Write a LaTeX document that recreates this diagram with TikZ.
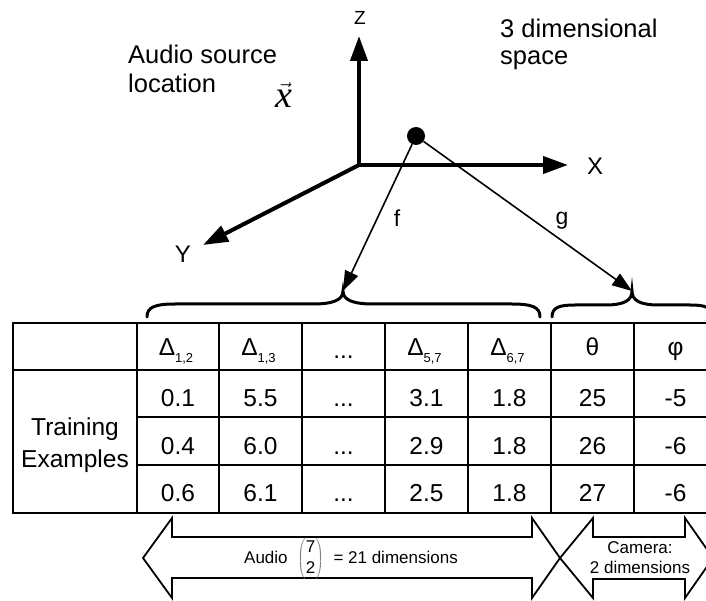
\documentclass[tikz,border=0pt]{standalone}
\usepackage{fontspec}
\setmainfont{Liberation Sans}
\newfontfamily\vecfont{Liberation Serif}
\usetikzlibrary{arrows.meta}
% Delta with a lowered small index, as in the table header
\newcommand\deltasub[1]{Δ\raisebox{-7pt}{\fontsize{13}{13}\selectfont #1}}
\newcommand\cellgap{...}
\begin{document}
\begin{tikzpicture}[x=1pt,y=-1pt,
  axis/.style={line width=4pt,-{Triangle[length=25pt,width=17pt]}},
  maparrow/.style={line width=1.6pt,-{Triangle[length=20pt,width=14pt]}},
  brace/.style={line width=3pt,line cap=round},
  grid/.style={line width=2.8pt},
  bigarrow/.style={line width=1.8pt,line join=miter},
  lbl/.style={font=\fontsize{25.5}{29}\selectfont,inner sep=0pt},
  axlbl/.style={font=\fontsize{24}{26}\selectfont,inner sep=0pt},
  cell/.style={font=\fontsize{24.5}{28}\selectfont,inner sep=0pt,anchor=base},
  small/.style={font=\fontsize{17}{20}\selectfont,inner sep=0pt,align=center}]
\useasboundingbox (0,0) rectangle (706,601);

% ---- coordinate system ----
\coordinate (O) at (359,165);
\coordinate (Ztip) at (359,36);
\coordinate (Xtip) at (568,165);
\coordinate (Ytip) at (203,245);
\draw[axis] (O) -- (Ztip);
\draw[axis] (O) -- (Xtip);
\draw[axis] (O) -- (Ytip);
\node[axlbl,font=\fontsize{19}{22}\selectfont] (zl) at (360,18) {Z};
\node[axlbl] (xl) at (595,166) {X};
\node[axlbl] (yl) at (183,254) {Y};

\node[lbl,anchor=base west,align=left] (src-lbl) at (128,93) {Audio source\\location};
\node[inner sep=0pt,font=\fontsize{38}{38}\selectfont] (xvec) at (284,95)
  {$\vec{\hbox{\vecfont\itshape x}}$};
\node[lbl,anchor=base west,align=left,font=\fontsize{25.5}{27}\selectfont] (space-lbl) at (500,65) {3 dimensional\\space};

% source point
\node[circle,fill=black,minimum size=18pt,inner sep=0pt] (src) at (416,136) {};

% ---- braces over the table ----
\coordinate (audiotip) at (343,291);
\coordinate (camtip) at (632,291);
\draw[brace] (147,317) .. controls (147,307) and (155,304) .. (175,304) -- (313,304)
  .. controls (333,304) and (343,300) .. (audiotip)
  .. controls (343,300) and (353,304) .. (373,304) -- (512,304)
  .. controls (532,304) and (540,307) .. (540,317);
\draw[brace] (552,317) .. controls (552,307) and (560,305) .. (575,305) -- (605,305)
  .. controls (625,305) and (632,300) .. (camtip)
  .. controls (632,300) and (639,305) .. (659,305) -- (690,305)
  .. controls (705,305) and (712,307) .. (712,317);

% mappings f and g
\draw[maparrow] (src) -- (audiotip);
\draw[maparrow] (src) -- (camtip);
\node[axlbl,font=\fontsize{23}{26}\selectfont] (fl) at (397,218) {f};
\node[axlbl,font=\fontsize{23}{26}\selectfont] (gl) at (562,221) {g};

% ---- table ----
\draw[grid] (13,323) rectangle (717,513);
\draw[grid] (13,370) -- (717,370);
\draw[grid] (137,417) -- (717,417);
\draw[grid] (137,465) -- (717,465);
\foreach \xx in {137,219,302,385,468,551,634}
  \draw[grid] (\xx,323) -- (\xx,513);

\node[cell] (h1) at (176,355) {\deltasub{1,2}};
\node[cell] (h2) at (258.5,355) {\deltasub{1,3}};
\node[cell] (h3) at (343.5,358) {\cellgap};
\node[cell] (h4) at (424.5,355) {\deltasub{5,7}};
\node[cell] (h5) at (507.5,355) {\deltasub{6,7}};
\node[cell] (h6) at (592.5,355) {θ};
\node[cell] (h7) at (675.5,355) {φ};

\node[cell,align=center,font=\fontsize{24.5}{32}\selectfont] (train) at (75,467) {Training\\Examples};

\foreach \a/\b/\d/\e/\f/\g [count=\r] in
  {0.1/5.5/3.1/1.8/25/-5, 0.4/6.0/2.9/1.8/26/-6, 0.6/6.1/2.5/1.8/27/-6}{
  \pgfmathsetmacro\yy{359+47.5*\r}
  \node[cell] (r\r c1) at (178,\yy) {\a};
  \node[cell] (r\r c2) at (260.5,\yy) {\b};
  \node[cell] (r\r c3) at (343.5,\yy) {\cellgap};
  \node[cell] (r\r c4) at (426.5,\yy) {\d};
  \node[cell] (r\r c5) at (509.5,\yy) {\e};
  \node[cell] (r\r c6) at (592.5,\yy) {\f};
  \node[cell] (r\r c7) at (675.5,\yy) {\g};
}

% ---- dimension arrows below the table ----
\draw[bigarrow] (143,558) -- (172,518) -- (172,537) -- (532,537) -- (532,518) -- (560,558)
  -- (532,598) -- (532,578) -- (172,578) -- (172,598) -- cycle;
\draw[bigarrow] (560,558) -- (593,518) -- (593,537) -- (685,537) -- (685,518) -- (713,558)
  -- (685,598) -- (685,579) -- (593,579) -- (593,598) -- cycle;

\node[small,anchor=base] (audio-dim) at (351,563) {Audio\;
  $\color{gray}\left(\begin{array}{@{}c@{}}\color{black}\mbox{7}\\[1pt]\color{black}\mbox{2}\end{array}\right)$\; = 21 dimensions};
\node[small,anchor=base] (cam-dim) at (640,573) {Camera:\\2 dimensions};
\end{tikzpicture}
\end{document}
